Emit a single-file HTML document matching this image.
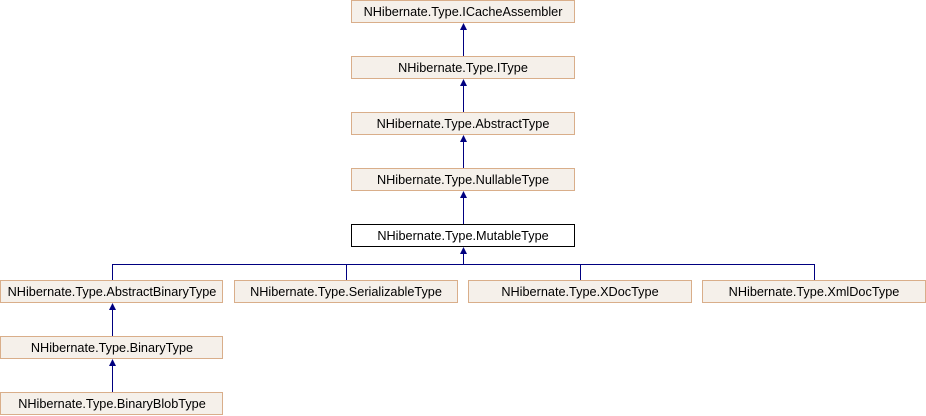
<!DOCTYPE html>
<html><head><meta charset="utf-8"><style>
html,body{margin:0;padding:0;background:#fff;width:926px;height:416px;overflow:hidden}
svg text{font-family:"Liberation Sans",Arial,sans-serif;font-size:12.7px;fill:#000}
</style></head><body>
<svg width="926" height="416" xmlns="http://www.w3.org/2000/svg">
<g fill="#F5F0EA" stroke="#D9AE8A" stroke-width="1">
<rect x="351.5" y="0.5" width="223" height="22"/>
<rect x="351.5" y="56.5" width="223" height="22"/>
<rect x="351.5" y="112.5" width="223" height="22"/>
<rect x="351.5" y="168.5" width="223" height="22"/>
<rect x="0.5" y="280.5" width="222" height="22"/>
<rect x="234.5" y="280.5" width="223" height="22"/>
<rect x="468.5" y="280.5" width="223" height="22"/>
<rect x="702.5" y="280.5" width="223" height="22"/>
<rect x="0.5" y="336.5" width="222" height="22"/>
<rect x="0.5" y="392.5" width="222" height="22"/>
</g>
<rect x="351.5" y="224.5" width="223" height="22" fill="#fff" stroke="#000"/>
<g stroke="#000080" stroke-width="1" fill="none">
<line x1="463.5" y1="56" x2="463.5" y2="28"/>
<line x1="463.5" y1="112" x2="463.5" y2="84"/>
<line x1="463.5" y1="168" x2="463.5" y2="140"/>
<line x1="463.5" y1="224" x2="463.5" y2="196"/>
<line x1="463.5" y1="264.5" x2="463.5" y2="252"/>
<polyline points="112.5,280 112.5,264.5 814.5,264.5 814.5,280"/>
<line x1="346.5" y1="264.5" x2="346.5" y2="280"/>
<line x1="580.5" y1="264.5" x2="580.5" y2="280"/>
<line x1="112.5" y1="336" x2="112.5" y2="308"/>
<line x1="112.5" y1="392" x2="112.5" y2="364"/>
</g>
<g fill="#000080">
<polygon points="463.5,23 460,30 467,30"/>
<polygon points="463.5,79 460,86 467,86"/>
<polygon points="463.5,135 460,142 467,142"/>
<polygon points="463.5,191 460,198 467,198"/>
<polygon points="463.5,247 460,254 467,254"/>
<polygon points="112.5,303 109,310 116,310"/>
<polygon points="112.5,359 109,366 116,366"/>
</g>
<g text-anchor="middle">
<text x="463" y="16">NHibernate.Type.ICacheAssembler</text>
<text x="463" y="72">NHibernate.Type.IType</text>
<text x="463" y="128">NHibernate.Type.AbstractType</text>
<text x="463" y="184">NHibernate.Type.NullableType</text>
<text x="463" y="240">NHibernate.Type.MutableType</text>
<text x="112" y="296">NHibernate.Type.AbstractBinaryType</text>
<text x="346" y="296">NHibernate.Type.SerializableType</text>
<text x="580" y="296">NHibernate.Type.XDocType</text>
<text x="814" y="296">NHibernate.Type.XmlDocType</text>
<text x="112" y="352">NHibernate.Type.BinaryType</text>
<text x="112" y="408">NHibernate.Type.BinaryBlobType</text>
</g>
</svg>
</body></html>
